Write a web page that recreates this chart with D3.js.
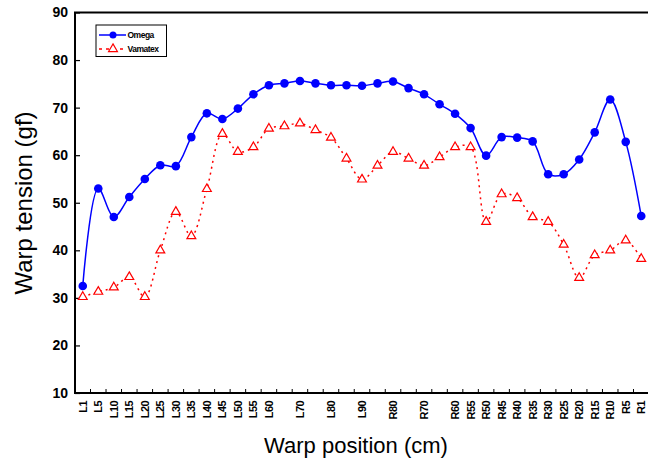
<!DOCTYPE html>
<html>
<head>
<meta charset="utf-8">
<script src="https://cdn.jsdelivr.net/npm/d3@7"></script>
<style>
  body { margin: 0; background: #fff; }
  svg { display: block; font-family: "Liberation Sans", Arial, sans-serif; }
</style>
</head>
<body>
<div id="chart"></div>
<script>
// warp positions (blank = unlabelled tick)
var positions = ["L1", "L5", "L10", "L15", "L20", "L25", "L30", "L35", "L40", "L45", "L50", "L55", "L60",
    "", "L70", "", "L80", "", "L90", "", "R80", "", "R70", "", "R60",
    "R55", "R50", "R45", "R40", "R35", "R30", "R25", "R20", "R15", "R10", "R5", "R1"];

// warp tension (gf)
var omega = [32.5, 53.0, 47.0, 51.2, 55.0, 57.9, 57.7, 63.8, 68.8, 67.6, 69.8, 72.8, 74.7,
    75.1, 75.6, 75.1, 74.7, 74.7, 74.6, 75.1, 75.5, 74.1, 72.8, 70.7, 68.7,
    65.7, 59.9, 63.8, 63.7, 62.9, 56.0, 56.0, 59.1, 64.8, 71.7, 62.8, 47.2];

var vamatex = [30.2, 31.3, 32.2, 34.4, 30.2, 40.0, 48.1, 43.0, 52.9, 64.5, 60.7, 61.7, 65.6,
    66.1, 66.7, 65.3, 63.7, 59.3, 54.9, 57.8, 60.7, 59.3, 57.8, 59.6, 61.7,
    61.7, 46.0, 51.8, 51.0, 47.0, 46.0, 41.2, 34.2, 39.0, 40.0, 42.1, 38.2];

var yTicks = [10, 20, 30, 40, 50, 60, 70, 80, 90];

var svgWidth = 648;
var svgHeight = 467;

// plot area
var plotLeft = 75, plotTop = 12.5, plotRight = 649, plotBottom = 393;

var svg = d3.select("#chart")
    .append("svg")
    .attr("width", svgWidth)
    .attr("height", svgHeight);

var xBand = d3.scaleBand()
    .domain(d3.range(positions.length))
    .range([plotLeft, plotRight]);

var xScale = i => xBand(i) + xBand.bandwidth() / 2;

var yScale = d3.scaleLinear()
    .domain([10, 90])
    .range([plotBottom, plotTop]);

// frame
svg.append("rect")
    .attr("x", plotLeft)
    .attr("y", plotTop)
    .attr("width", plotRight - plotLeft)
    .attr("height", plotBottom - plotTop)
    .attr("fill", "none")
    .attr("stroke", "#000")
    .attr("stroke-width", 2);

// y axis, ticks inward
var yAxis = d3.axisLeft(yScale).tickValues(yTicks).tickSizeInner(-5).tickSizeOuter(0).tickPadding(7);
var yG = svg.append("g")
    .attr("transform", `translate(${plotLeft}, 0)`)
    .call(yAxis);
yG.select(".domain").remove();
yG.selectAll("line").attr("stroke", "#000").attr("stroke-width", 1.2);
yG.selectAll("text")
    .attr("font-size", "14px")
    .attr("font-weight", "bold")
    .attr("fill", "#000");

// x axis: ticks between categories, pointing up
var bounds = d3.range(1, positions.length).map(i => xBand(i));
svg.append("g").selectAll("line")
    .data(bounds)
    .enter()
    .append("line")
    .attr("x1", d => d)
    .attr("x2", d => d)
    .attr("y1", plotBottom)
    .attr("y2", plotBottom - 4)
    .attr("stroke", "#000")
    .attr("stroke-width", 1);

svg.append("g").selectAll("text")
    .data(positions)
    .enter()
    .append("text")
    .attr("transform", (d, i) => `translate(${xScale(i) + 4}, 401) rotate(-90)`)
    .attr("text-anchor", "end")
    .attr("font-size", "11px")
    .attr("font-weight", "bold")
    .attr("letter-spacing", "-0.6px")
    .text(d => d);

// axis titles
svg.append("text")
    .attr("x", 356)
    .attr("y", 453)
    .attr("text-anchor", "middle")
    .attr("font-size", "22px")
    .text("Warp position (cm)");

svg.append("text")
    .attr("transform", "translate(32, 203) rotate(-90)")
    .attr("text-anchor", "middle")
    .attr("font-size", "24px")
    .text("Warp tension (gf)");

// lines
var line = d3.line()
    .x((d, i) => xScale(i))
    .y(d => yScale(d))
    .curve(d3.curveCatmullRom);

svg.append("path")
    .datum(vamatex)
    .attr("d", line)
    .attr("fill", "none")
    .attr("stroke", "#ff0000")
    .attr("stroke-width", 1.5)
    .attr("stroke-dasharray", "2,4");

svg.append("path")
    .datum(omega)
    .attr("d", line)
    .attr("fill", "none")
    .attr("stroke", "#0000ff")
    .attr("stroke-width", 1.5);

var tri = d3.symbol().type(d3.symbolTriangle).size(34);

svg.append("g").selectAll("path")
    .data(vamatex)
    .enter()
    .append("path")
    .attr("d", tri)
    .attr("transform", (d, i) => `translate(${xScale(i)}, ${yScale(d)})`)
    .attr("fill", "#fff")
    .attr("stroke", "#ff0000")
    .attr("stroke-width", 1.2);

svg.append("g").selectAll("circle")
    .data(omega)
    .enter()
    .append("circle")
    .attr("cx", (d, i) => xScale(i))
    .attr("cy", d => yScale(d))
    .attr("r", 4.3)
    .attr("fill", "#0000ff");

// legend
var legend = svg.append("g");
legend.append("rect")
    .attr("x", 96)
    .attr("y", 25)
    .attr("width", 70.5)
    .attr("height", 31.5)
    .attr("fill", "#fff")
    .attr("stroke", "#000")
    .attr("stroke-width", 1);

legend.append("line")
    .attr("x1", 99).attr("x2", 126)
    .attr("y1", 35).attr("y2", 35)
    .attr("stroke", "#0000ff").attr("stroke-width", 1.5);
legend.append("circle")
    .attr("cx", 113).attr("cy", 35).attr("r", 3.5)
    .attr("fill", "#0000ff");

legend.append("line")
    .attr("x1", 99).attr("x2", 126)
    .attr("y1", 49).attr("y2", 49)
    .attr("stroke", "#ff0000").attr("stroke-width", 1.5)
    .attr("stroke-dasharray", "3,4");
legend.append("path")
    .attr("d", tri)
    .attr("transform", "translate(113, 49)")
    .attr("fill", "#fff")
    .attr("stroke", "#ff0000")
    .attr("stroke-width", 1.2);

legend.selectAll("text.lbl")
    .data(["Omega", "Vamatex"])
    .enter()
    .append("text")
    .attr("x", 127.5)
    .attr("y", (d, i) => 38 + i * 14)
    .attr("font-size", "8.5px")
    .attr("font-weight", "bold")
    .attr("letter-spacing", "-0.5px")
    .text(d => d);
</script>
</body>
</html>
